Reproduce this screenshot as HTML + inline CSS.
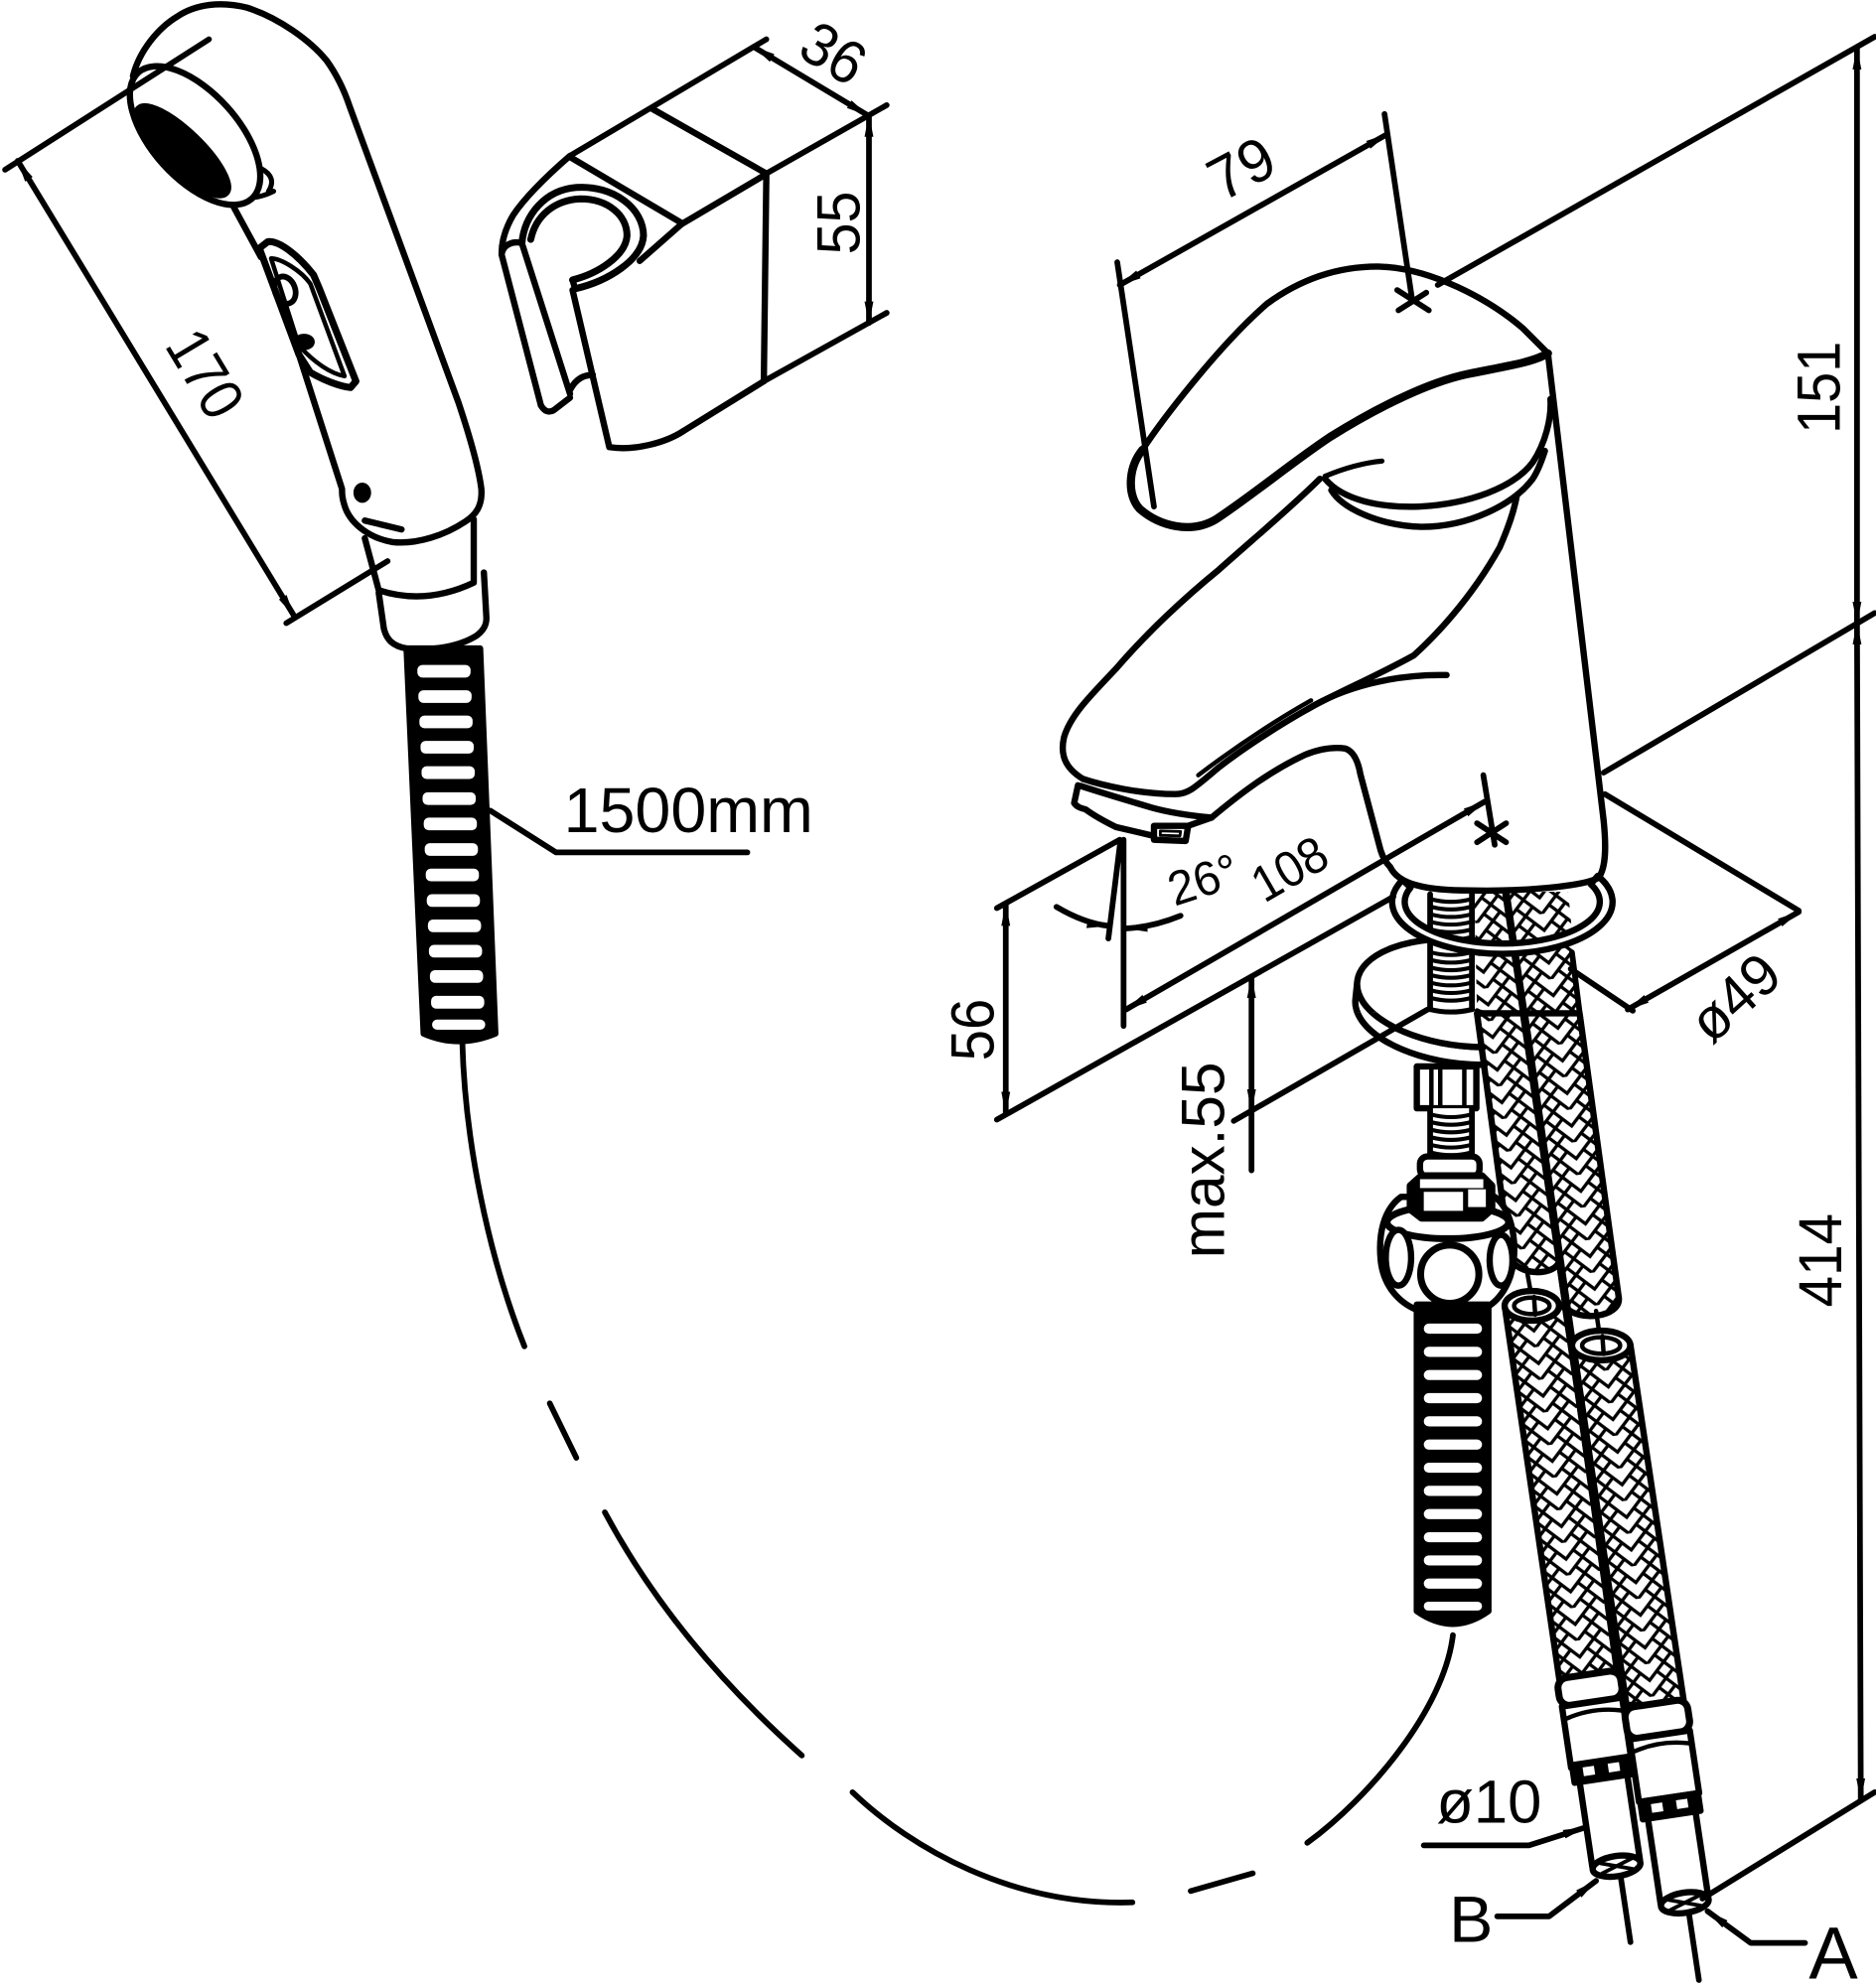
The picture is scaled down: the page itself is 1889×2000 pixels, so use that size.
<!DOCTYPE html>
<html><head><meta charset="utf-8"><style>
html,body{margin:0;padding:0;background:#fff;}
svg{display:block;}
text{font-family:"Liberation Sans",Arial,sans-serif;fill:#000;stroke:none;}
</style></head><body>
<svg xmlns="http://www.w3.org/2000/svg" width="1889" height="2000" viewBox="0 0 1481 1568">
<defs>
<marker id="ar" viewBox="0 0 18 8" refX="17" refY="4" markerWidth="18" markerHeight="8" markerUnits="userSpaceOnUse" orient="auto-start-reverse"><path d="M0,0.5 L18,4 L0,7.5 Z" fill="#000" stroke="none"/></marker>
<pattern id="br" width="26" height="26" patternUnits="userSpaceOnUse" patternTransform="rotate(-8)">
<rect width="26" height="26" fill="#fff"/>
<path d="M0,0 L13,13 L26,0 M0,13 L13,26 L26,13 M6.5,6.5 L0,13 M19.5,6.5 L26,13 M6.5,19.5 L0,26 M19.5,19.5 L26,26" stroke="#000" stroke-width="2.6" fill="none"/>
</pattern>
<clipPath id="cf"><rect x="1050" y="799" width="220" height="70"/></clipPath>
</defs>
<rect width="1481" height="1568" fill="#fff"/>
<g fill="none" stroke="#000" stroke-width="5" stroke-linecap="round" stroke-linejoin="round">

<!-- ================= HAND SHOWER ================= -->
<path d="M105,60 C110,40 125,22 140,13 C155,3 175,1 195,6 C220,14 245,32 258,48 C268,62 273,75 276,84 L362,318 C372,348 378,370 380,386 C381,400 375,407 367,412 C352,422 330,430 310,428 C292,425 278,414 273,402 C270,394 270,390 270,386 L236,280"/>
<path d="M181,157 L206,203"/>
<ellipse cx="154" cy="107" rx="67" ry="34" transform="rotate(48 154 107)" fill="#fff"/>
<ellipse cx="144" cy="119" rx="48" ry="15" transform="rotate(44 144 119)" fill="#000"/>
<path d="M206,133 Q219,140 212,151 M200,156 Q208,155 216,151" stroke-width="4"/>
<!-- button -->
<path d="M204.75,196 L211.5,190.75 C220,190 234,200 247.5,217 L252,227.5 L281,301 L276.75,306 C268,305 255,300 245,294 L236,280 Z" fill="#fff" stroke-width="5.5"/>
<path d="M214,204 C222,204 238,214 245,224 L272,297 C262,295 250,288 236,273 Z" stroke-width="3.5"/>
<ellipse cx="225" cy="229" rx="8" ry="11" transform="rotate(-20 225 229)" stroke-width="4.5"/>
<ellipse cx="240" cy="270" rx="6" ry="4" fill="#000"/>
<ellipse cx="286" cy="389" rx="7" ry="8" fill="#000" stroke="none"/>
<path d="M288,411 L317,418"/>
<!-- collar -->
<path d="M288,425 L299,466 Q336,478 374,460 L374,410"/>
<path d="M299,468 L303,496 C305,505 310,510 321,512 C335,514 360,512 376,502 C383,497 384,492 384,488 L382,452"/>
<!-- corrugated hose -->
<path d="M321,512 L334.5,816 Q362,828 391,816 L379,512 Z" fill="#000"/>
<g fill="#fff" stroke="none">
<rect x="329.5" y="525" width="42" height="10" rx="4"/>
<rect x="330.3" y="545" width="42" height="10" rx="4"/>
<rect x="331.1" y="565" width="42" height="10" rx="4"/>
<rect x="332" y="585" width="42" height="10" rx="4"/>
<rect x="332.8" y="605" width="42" height="10" rx="4"/>
<rect x="333.6" y="625.5" width="42" height="10" rx="4"/>
<rect x="334.5" y="645.5" width="42" height="10" rx="4"/>
<rect x="335.3" y="665.7" width="42" height="10" rx="4"/>
<rect x="336.1" y="685.8" width="42" height="10" rx="4"/>
<rect x="336.9" y="706" width="42" height="10" rx="4"/>
<rect x="337.8" y="726" width="42" height="10" rx="4"/>
<rect x="338.6" y="746" width="42" height="10" rx="4"/>
<rect x="339.4" y="766" width="42" height="10" rx="4"/>
<rect x="340.3" y="786.3" width="42" height="10" rx="4"/>
<rect x="341.1" y="805" width="42" height="8" rx="4"/>
</g>
<path d="M387,640 L439,673 L590,673" stroke-width="4.5"/>

<!-- ================= HOLDER ================= -->
<path d="M450,123 L605,31" stroke-width="4.5"/>
<path d="M515,86 L605,137"/>
<path d="M605,137 L700,83" stroke-width="4.5"/>
<path d="M605,137 L603,301"/>
<path d="M603,301 L700,247" stroke-width="4.5"/>
<path d="M450,124 L538,176"/>
<path d="M538,177 L604,138"/>
<path d="M538,177 L505,206"/>
<path d="M450,123 C435,136 415,155 405,170 C398,182 396,192 396,200"/>
<path d="M412,192 C414,170 430,150 455,148 C485,146 508,165 508,186 C507,205 480,222 454,228" stroke-width="5.5"/>
<path d="M419,189 C423,170 438,158 458,157 C480,157 495,170 495,186 C494,202 472,216 452,221" stroke-width="5.5"/>
<path d="M454,228 L452,221"/>
<path d="M427,320 L396,201 C397,193 405,190 412,192 L450,311"/>
<path d="M427,320 Q431,327 437,324 L450,314"/>
<path d="M452,229 L481,353 C500,356 525,350 540,340 L603,301"/>
<path d="M450,308 C454,300 460,296 468,296"/>

<!-- ================= DASHED HOSE ARC ================= -->
<g stroke-width="4.5">
<path d="M365,823 C367,900 385,990 414,1063"/>
<path d="M434,1108 L455,1151"/>
<path d="M477.5,1194 Q532,1296 633,1386"/>
<path d="M673,1415 C720,1460 800,1505 894,1502"/>
<path d="M940,1493 L989,1479"/>
<path d="M1032,1455 C1080,1420 1140,1350 1147,1291"/>
</g>

<!-- ================= FAUCET ================= -->
<!-- disc -->
<g transform="rotate(6 1158 784)">
<path d="M1071,784 L1071,798 A87,42 0 0 0 1245,798 L1245,784 A87,42 0 0 1 1071,784 Z" fill="#fff"/>
<ellipse cx="1158" cy="784" rx="87" ry="42" fill="#fff"/>
</g>
<!-- braid above disc -->
<path d="M1164,704 L1238,704 L1247,799 L1166,799 Z" fill="url(#br)" stroke="none"/>
<path d="M1241,752 L1247,799" stroke-width="4.5"/>
<!-- upper thread -->
<rect x="1129" y="706" width="33" height="92" fill="#fff" stroke="none"/>
<path d="M1129,706 L1129,797 M1162,706 L1162,797" stroke-width="4.5"/>
<g stroke-width="3.2">
<path d="M1130,710 Q1145.5,714 1161,710"/><path d="M1130,716 Q1145.5,720 1161,716"/><path d="M1130,722 Q1145.5,726 1161,722"/>
<path d="M1130,728 Q1145.5,732 1161,728"/><path d="M1130,734 Q1145.5,738 1161,734"/><path d="M1130,740 Q1145.5,744 1161,740"/>
<path d="M1130,752 Q1145.5,756 1161,752"/><path d="M1130,758 Q1145.5,762 1161,758"/><path d="M1130,764 Q1145.5,768 1161,764"/>
<path d="M1130,770 Q1145.5,774 1161,770"/><path d="M1130,776 Q1145.5,780 1161,776"/><path d="M1130,782 Q1145.5,786 1161,782"/>
<path d="M1130,788 Q1145.5,792 1161,788"/>
</g>
<path d="M1189,706 L1203,800" stroke-width="6"/>
<!-- ring band -->
<path d="M1261.3,691.5 A87,41 0 1 1 1107.2,694.7 L1113.6,700.7 A77,33 0 1 0 1255.8,698.1 Z" fill="#fff"/>

<!-- lever -->
<path d="M902,355 C915,335 960,275 1000,240 C1030,218 1060,210 1090,210.5 C1130,212 1175,236 1202,259 L1222,279"/>
<path d="M1222,279 C1210,286 1190,289 1160,295 C1130,301 1090,320 1050,345 C1020,365 990,390 960,410 C940,422 915,415 900,402 C890,392 890,370 902,355" stroke-width="6.5"/>
<!-- cap -->
<path d="M1046,378 C1060,395 1090,401 1120,400 C1160,398 1195,385 1210,365 C1220,350 1225,330 1224,315"/>
<path d="M1051,387 C1060,402 1090,415 1122,416 C1160,416 1195,398 1210,378 C1214,372 1217,364 1219.6,356"/>
<path d="M1046,376 Q1070,366 1091,364" stroke-width="4"/>
<!-- body -->
<path d="M1222,279 L1266,648 C1268,668 1268,685 1262,693 C1250,700 1200,704 1160,703 C1125,703 1104,698 1097.6,684.7"/>
<path d="M1042,378 C1020,400 990,425 962,450 C935,472 905,500 881,528 C860,550 845,565 840,582 C837,595 840,606 855,615"/>
<path d="M855,615 C870,620 900,627 928,627 C938,627 943,622 962,606 C980,592 1010,572 1037.5,557 C1060,545 1090,532 1116,517.5 C1130,505 1160,475 1184,432 C1190,418 1195,405 1197.4,391.5"/>
<path d="M946,612 C975,590 1005,570 1035,553" stroke-width="3.5"/>
<path d="M1032,560 C1060,543 1100,532 1142,533"/>
<!-- rim/aerator -->
<path d="M851,620 L848,634 C850,637 853,638 857,639 C865,645 875,650 881,653 L911,660"/>
<path d="M911,652 L911,663 L936,664 L938,652 Z"/>
<path d="M916,656 L932,656.5 L931.5,660 L916,659.5 Z" stroke-width="2.2"/>
<path d="M938,652 L956.5,645.5"/>
<path d="M853,620.5 C870,626 890,632 909.5,637.7 C925,642 940,644 956.5,645.5"/>
<path d="M956.5,645.5 C975,630 1000,610 1030,596 C1045,590 1055,590 1062,591 C1068,593 1072,600 1074,611.5 L1090,671.6 C1092,678 1095,682 1097.6,684.7"/>

<!-- disc front cover -->
<g clip-path="url(#cf)">
<g transform="rotate(6 1158 784)">
<path d="M1071,784 L1071,798 A87,42 0 0 0 1245,798 L1245,784 A87,42 0 0 1 1071,784 Z" fill="#fff"/>
<ellipse cx="1158" cy="784" rx="87" ry="42" fill="#fff"/>
</g>
</g>
<path d="M1129,797 Q1145,801 1162,797" stroke-width="4"/>
<path d="M1166,798 C1175,803 1200,802 1245,802" stroke-width="4"/>

<!-- upper braided hoses below disc -->
<path d="M1203,800 L1247,800 L1278,1025 C1279,1040 1246,1044 1236,1032 Z" fill="url(#br)"/>
<path d="M1166,800 L1203,800 L1231,995 C1229,1008 1197,1008 1192,992 Z" fill="url(#br)"/>
<path d="M1203,800 L1275,1295" stroke-width="6.5"/>
<path d="M1205,1001 L1212,1040 M1260,1035 L1265,1069" stroke-width="3.5"/>
<!-- lower braided hoses -->
<path d="M1188,1032 L1231,1326 L1277,1323 L1236,1030 Z" fill="url(#br)"/>
<path d="M1242,1062 L1284,1346 L1330,1348 L1287,1061 Z" fill="url(#br)"/>
<path d="M1236,1030 L1276,1300" stroke-width="6.5"/>
<ellipse cx="1209.3" cy="1031" rx="21.5" ry="11.7" fill="#fff"/>
<ellipse cx="1209.3" cy="1031" rx="14" ry="6.5" stroke-width="3.5"/>
<path d="M1211,1024 L1212,1038" stroke-width="3.5"/>
<ellipse cx="1264" cy="1062.3" rx="23" ry="11.7" fill="#fff"/>
<ellipse cx="1264" cy="1062.3" rx="15" ry="6.5" stroke-width="3.5"/>
<path d="M1265,1055 L1266,1069" stroke-width="3.5"/>

<!-- L1 fitting -->
<g transform="translate(1254,1325) rotate(-8.5)">
<rect x="-25" y="-3" width="50" height="22" rx="8" fill="#fff" stroke-width="5.5"/>
<rect x="-24" y="19" width="48" height="49" fill="#fff"/>
<path d="M-22,29 Q0,23 22,29" stroke-width="3.5"/>
<rect x="-23" y="66" width="46" height="14" fill="#000"/>
<rect x="-15" y="69" width="9" height="7" fill="#fff" stroke="none"/>
<rect x="5" y="69" width="9" height="7" fill="#fff" stroke="none"/>
<rect x="-19" y="80" width="38" height="68" fill="#fff"/>
<ellipse cx="0" cy="150" rx="19" ry="8" fill="#fff"/>
<path d="M-12,146 L12,154 M-12,154 L12,146" stroke-width="3"/>
<path d="M2,159 L2,211" stroke-width="4.5"/>
</g>
<!-- L2 fitting -->
<g transform="translate(1307,1348) rotate(-8.5)">
<rect x="-25" y="-3" width="50" height="25" rx="8" fill="#fff" stroke-width="5.5"/>
<rect x="-24" y="22" width="48" height="50" fill="#fff"/>
<path d="M-22,32 Q0,26 22,32" stroke-width="3.5"/>
<rect x="-23" y="72" width="46" height="14" fill="#000"/>
<rect x="-15" y="75" width="9" height="7" fill="#fff" stroke="none"/>
<rect x="5" y="75" width="9" height="7" fill="#fff" stroke="none"/>
<rect x="-19" y="86" width="38" height="68" fill="#fff"/>
<ellipse cx="0" cy="156" rx="19" ry="8" fill="#fff"/>
<path d="M-12,152 L12,160 M-12,160 L12,152" stroke-width="3"/>
<path d="M2,165 L2,218" stroke-width="4.5"/>
</g>

<!-- union stack -->
<rect x="1118.5" y="842" width="47" height="33" fill="#fff"/>
<path d="M1130,844 L1130,873 M1137,844 L1137,873 M1156,844 L1156,873" stroke-width="3.5"/>
<rect x="1129" y="875" width="33" height="40" fill="#fff" stroke="none"/>
<path d="M1129,875 L1129,915 M1162,875 L1162,915" stroke-width="4.5"/>
<g stroke-width="3.2">
<path d="M1130,880 Q1145.5,884 1161,880"/><path d="M1130,886 Q1145.5,890 1161,886"/><path d="M1130,892 Q1145.5,896 1161,892"/>
<path d="M1130,898 Q1145.5,902 1161,898"/><path d="M1130,904 Q1145.5,908 1161,904"/><path d="M1130,910 Q1145.5,914 1161,910"/>
</g>
<path d="M1106,945 C1092,955 1088,975 1090,995 C1092,1015 1104,1028 1118,1034 L1170,1034 C1184,1028 1193,1013 1195,995 C1197,975 1192,954 1180,945 Z" fill="#fff"/>
<ellipse cx="1143" cy="965" rx="48" ry="13" fill="#fff" stroke-width="5.5"/>
<rect x="1121" y="913" width="47" height="16" rx="6" fill="#fff"/>
<path d="M1113,936 L1122,928 L1170,928 L1178,936 L1178,955 L1170,962 L1122,962 L1113,955 Z" fill="#000"/>
<rect x="1121" y="931" width="50" height="7" fill="#fff" stroke="none"/>
<rect x="1124" y="941" width="31" height="15" fill="#fff" stroke="none"/>
<rect x="1159" y="939" width="14" height="14" fill="#fff" stroke="none"/>
<circle cx="1144.5" cy="1006" r="23" fill="#fff" stroke-width="5.5"/>
<ellipse cx="1104" cy="993" rx="10" ry="22" fill="#fff"/>
<ellipse cx="1185" cy="995" rx="9" ry="20" fill="#fff"/>
<!-- lower corrugated hose -->
<path d="M1118.5,1030 L1118.5,1272 Q1147,1292 1175,1272 L1175,1030 Z" fill="#000"/>
<g fill="#fff" stroke="none">
<rect x="1124" y="1045" width="46" height="8" rx="4"/>
<rect x="1124" y="1063.3" width="46" height="8" rx="4"/>
<rect x="1124" y="1081.6" width="46" height="8" rx="4"/>
<rect x="1124" y="1099.9" width="46" height="8" rx="4"/>
<rect x="1124" y="1118.2" width="46" height="8" rx="4"/>
<rect x="1124" y="1136.5" width="46" height="8" rx="4"/>
<rect x="1124" y="1154.8" width="46" height="8" rx="4"/>
<rect x="1124" y="1173.1" width="46" height="8" rx="4"/>
<rect x="1124" y="1191.4" width="46" height="8" rx="4"/>
<rect x="1124" y="1209.7" width="46" height="8" rx="4"/>
<rect x="1124" y="1228" width="46" height="8" rx="4"/>
<rect x="1124" y="1246.3" width="46" height="8" rx="4"/>
<rect x="1124" y="1264.6" width="46" height="7" rx="3.5"/>
</g>

<!-- ================= DIMENSIONS ================= -->
<g stroke-width="4.5">
<!-- 170 -->
<path d="M4,134 L165,31"/>
<path d="M226,492 L306,443"/>
<path d="M14,127 L232,486" marker-start="url(#ar)" marker-end="url(#ar)"/>
<!-- 36 / 55 -->
<path d="M595,37 L685,91" marker-start="url(#ar)" marker-end="url(#ar)"/>
<path d="M686,91 L686,255" marker-start="url(#ar)" marker-end="url(#ar)"/>
<!-- 79 -->
<path d="M882,207 L911,400"/>
<path d="M1093,90 L1115,238"/>
<path d="M884,225 L1095,106" marker-start="url(#ar)" marker-end="url(#ar)"/>
<path d="M1103,229 L1128,245 M1104,245 L1126,231"/>
<!-- 151 / 414 -->
<path d="M1135,225 L1480,29"/>
<path d="M1266,610 L1480,484"/>
<path d="M1344,1499 L1480,1415"/>
<path d="M1466,38 L1466,492" marker-start="url(#ar)" marker-end="url(#ar)"/>
<path d="M1466,492 L1469,1421" marker-start="url(#ar)" marker-end="url(#ar)"/>
<!-- 56 -->
<path d="M787,717 L884,663"/>
<path d="M787,884 L1100,708"/>
<path d="M794,714 L794,879" marker-start="url(#ar)" marker-end="url(#ar)"/>
<!-- max.55 -->
<path d="M974,885 L1127,797"/>
<path d="M988,877 L988,771" marker-start="url(#ar)" marker-end="url(#ar)"/>
<path d="M988,877 L988,924"/>
<!-- 108 / 26 -->
<path d="M887,663 L887,810"/>
<path d="M884.5,664 L875,741"/>
<path d="M889,797 L1172,633" marker-start="url(#ar)" marker-end="url(#ar)"/>
<path d="M834,716 Q856,729 875,731" marker-end="url(#ar)"/>
<path d="M932,723 Q910,732 889,733" marker-end="url(#ar)"/>
<path d="M1171,612 L1180,667 M1166,650 L1189,665 M1166,665 L1189,650"/>
<!-- ø49 -->
<path d="M1267,627 L1420,719"/>
<path d="M1240,765 L1289,798"/>
<path d="M1285,797 L1420,720" marker-start="url(#ar)" marker-end="url(#ar)"/>
<!-- leaders -->
<path d="M1124,1457 L1207,1457 L1251,1443" marker-end="url(#ar)"/>
<path d="M1182,1513 L1223,1513 L1260,1485" marker-end="url(#ar)"/>
<path d="M1425,1534 L1382,1534 L1348,1509" marker-end="url(#ar)"/>
</g>
</g>

<!-- ================= TEXT ================= -->
<text x="162" y="295" font-size="48" text-anchor="middle" dominant-baseline="central" textLength="72" lengthAdjust="spacingAndGlyphs" transform="rotate(59 162 295)">170</text>
<text x="658" y="42" font-size="48" text-anchor="middle" dominant-baseline="central" textLength="50" lengthAdjust="spacingAndGlyphs" transform="rotate(31 658 42)">36</text>
<text x="662" y="176" font-size="48" text-anchor="middle" dominant-baseline="central" textLength="50" lengthAdjust="spacingAndGlyphs" transform="rotate(-90 662 176)">55</text>
<text x="980" y="133" font-size="48" text-anchor="middle" dominant-baseline="central" textLength="52" lengthAdjust="spacingAndGlyphs" transform="rotate(-28 980 133)">79</text>
<text x="1436" y="306" font-size="48" text-anchor="middle" dominant-baseline="central" textLength="73" lengthAdjust="spacingAndGlyphs" transform="rotate(-90 1436 306)">151</text>
<text x="1437" y="995" font-size="48" text-anchor="middle" dominant-baseline="central" textLength="74" lengthAdjust="spacingAndGlyphs" transform="rotate(-90 1437 995)">414</text>
<text x="768" y="813" font-size="48" text-anchor="middle" dominant-baseline="central" textLength="49" lengthAdjust="spacingAndGlyphs" transform="rotate(-90 768 813)">56</text>
<text x="950" y="916" font-size="48" text-anchor="middle" dominant-baseline="central" textLength="155" lengthAdjust="spacingAndGlyphs" transform="rotate(-90 950 916)">max.55</text>
<text x="1018" y="686" font-size="40" text-anchor="middle" dominant-baseline="central" textLength="62" lengthAdjust="spacingAndGlyphs" transform="rotate(-30 1018 686)">108</text>
<text x="950" y="695" font-size="38" text-anchor="middle" dominant-baseline="central" textLength="56" lengthAdjust="spacingAndGlyphs" transform="rotate(-18 950 695)">26°</text>
<text x="1370" y="788" font-size="46" text-anchor="middle" dominant-baseline="central" textLength="78" lengthAdjust="spacingAndGlyphs" transform="rotate(-42 1370 788)">ø49</text>
<text x="445" y="657" font-size="50" textLength="197" lengthAdjust="spacingAndGlyphs">1500mm</text>
<text x="1134" y="1439" font-size="48" textLength="83" lengthAdjust="spacingAndGlyphs">ø10</text>
<text x="1144" y="1533" font-size="52">B</text>
<text x="1428" y="1562" font-size="58">A</text>
</svg>
</body></html>
